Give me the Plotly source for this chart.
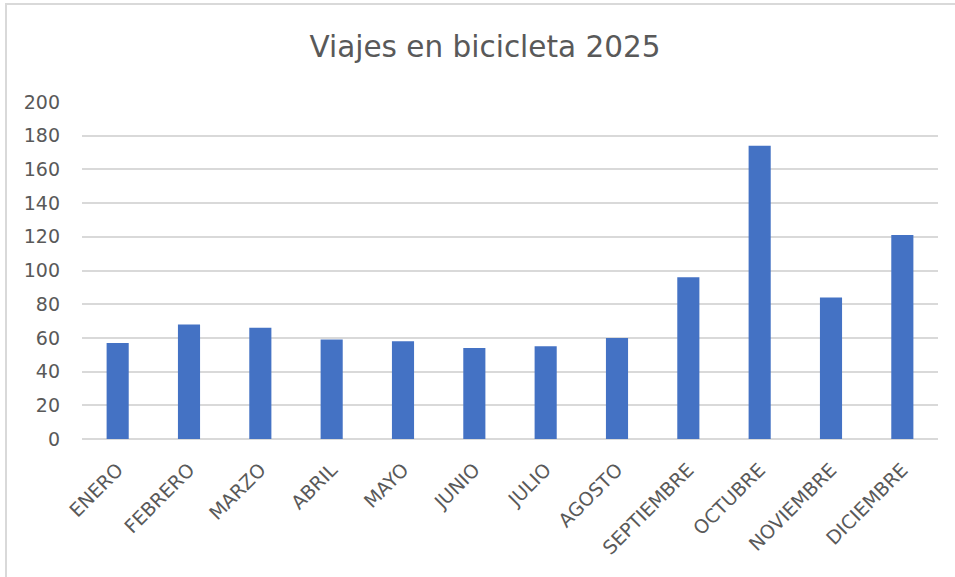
import plotly.graph_objects as go

months = ["ENERO", "FEBRERO", "MARZO", "ABRIL", "MAYO", "JUNIO", "JULIO",
          "AGOSTO", "SEPTIEMBRE", "OCTUBRE", "NOVIEMBRE", "DICIEMBRE"]
trips = [57, 68, 66, 59, 58, 54, 55, 60, 96, 174, 84, 121]
y_ticks = [0, 20, 40, 60, 80, 100, 120, 140, 160, 180, 200]
title_text = "Viajes en bicicleta 2025"

W, H = 955, 577
L, R, T, B = 82, 17, 102, 138
pw = W - L - R
ph = H - T - B

def px_to_paper_x(px):
    return (px - L) / pw

def px_to_paper_y(py):
    return (H - B - py) / ph

font_family = "DejaVu Sans"
grey = "#595959"

fig = go.Figure()
fig.add_trace(go.Bar(
    x=months, y=trips,
    marker=dict(color="#4472C4", line=dict(width=0)),
    hoverinfo="x+y",
))

fig.update_layout(
    width=W, height=H,
    margin=dict(l=L, r=R, t=T, b=B, pad=0),
    paper_bgcolor="white",
    plot_bgcolor="white",
    bargap=0.69,
    showlegend=False,
    title=dict(
        text=title_text,
        font=dict(family=font_family, size=29.5, color=grey),
        x=px_to_paper_x(485), xref="paper", xanchor="center",
        y=1 - 47 / H, yref="container", yanchor="middle",
    ),
    xaxis=dict(
        tickangle=-45,
        tickfont=dict(family=font_family, size=19, color=grey),
        showgrid=False,
        showline=False,
        ticks="",
        ticklabelstandoff=15,
        fixedrange=True,
    ),
    yaxis=dict(
        range=[0, 200],
        tickvals=y_ticks,
        tickfont=dict(family=font_family, size=19, color=grey),
        showgrid=True,
        gridcolor="#d9d9d9",
        gridwidth=1.6,
        zeroline=True,
        zerolinecolor="#d9d9d9",
        zerolinewidth=1.6,
        showline=False,
        ticks="",
        ticklabelstandoff=21,
        fixedrange=True,
    ),
    shapes=[
        dict(
            type="rect", xref="paper", yref="paper",
            x0=px_to_paper_x(6), x1=px_to_paper_x(W + 10),
            y0=px_to_paper_y(H + 10), y1=px_to_paper_y(4),
            line=dict(color="#d9d9d9", width=2),
            fillcolor="rgba(0,0,0,0)",
            layer="below",
        )
    ],
)

fig.write_html(
    "out.html",
    config={"displayModeBar": False},
    post_script="document.body.style.margin='0';document.body.style.overflow='hidden';",
)
